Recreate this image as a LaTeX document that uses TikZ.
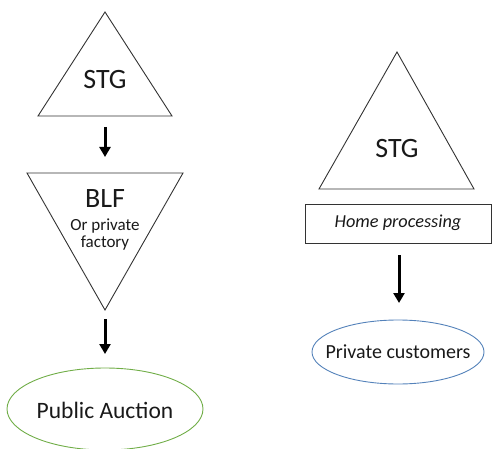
\documentclass[tikz,border=0pt]{standalone}
\usepackage{fontspec}
\setmainfont{Carlito}
\usetikzlibrary{arrows.meta}
\definecolor{ogreen}{RGB}{112,173,71}
\definecolor{oblue}{RGB}{84,130,186}
\tikzset{
  shapeline/.style={draw=black!80, line width=0.9pt},
  flow/.style={line width=3pt, -{Triangle[length=10pt,width=11pt]}},
  lbl/.style={inner sep=0pt, text=black!90}
}
\begin{document}
\begin{tikzpicture}[x=1pt,y=-1pt]
\useasboundingbox (0,0) rectangle (492,449);
\begin{scope}
\clip (0,0) rectangle (492,449);
% left STG triangle
\draw[shapeline] (105,12) -- (172,116) -- (38,116) -- cycle;
\node[lbl, font=\fontsize{28}{30}\selectfont] (stg1) at (105,80) {STG};
% BLF inverted triangle
\draw[shapeline] (27,173) -- (183,173) -- (105,310) -- cycle;
\node[lbl, font=\fontsize{28}{30}\selectfont] (blf) at (105,199) {BLF};
\node[lbl, font=\fontsize{17}{17.5}\selectfont, align=center] (blfsub) at (105,235) {Or private\\[-0.5pt]factory};
% Public auction ellipse
\draw[draw=ogreen, line width=0.9pt] (105,409) ellipse [x radius=98, y radius=41];
\node[lbl, font=\fontsize{23.5}{25}\selectfont] (pa) at (105,410) {Public Auction};
% right STG triangle
\draw[shapeline] (397,52) -- (474,189) -- (319,189) -- cycle;
\node[lbl, font=\fontsize{28}{30}\selectfont] (stg2) at (397,149) {STG};
% Home processing
\draw[shapeline] (305,204) rectangle (491,243);
\node[lbl, font=\fontsize{18.3}{20}\itshape\selectfont] (hp) at (398,223) {Home processing};
% Private customers ellipse
\draw[draw=oblue, line width=0.9pt] (398,352) ellipse [x radius=86, y radius=32];
\node[lbl, font=\fontsize{20}{22}\selectfont] (pc) at (398,352) {Private customers};
% arrow end points
\coordinate (a1s) at (105,127);
\coordinate (a1e) at (105,157);
\coordinate (a2s) at (105,319);
\coordinate (a2e) at (105,354);
\coordinate (a3s) at (399,255);
\coordinate (a3e) at (399,303);
\draw[flow] (a1s) -- (a1e);
\draw[flow] (a2s) -- (a2e);
\draw[flow] (a3s) -- (a3e);
\end{scope}
\end{tikzpicture}
\end{document}
